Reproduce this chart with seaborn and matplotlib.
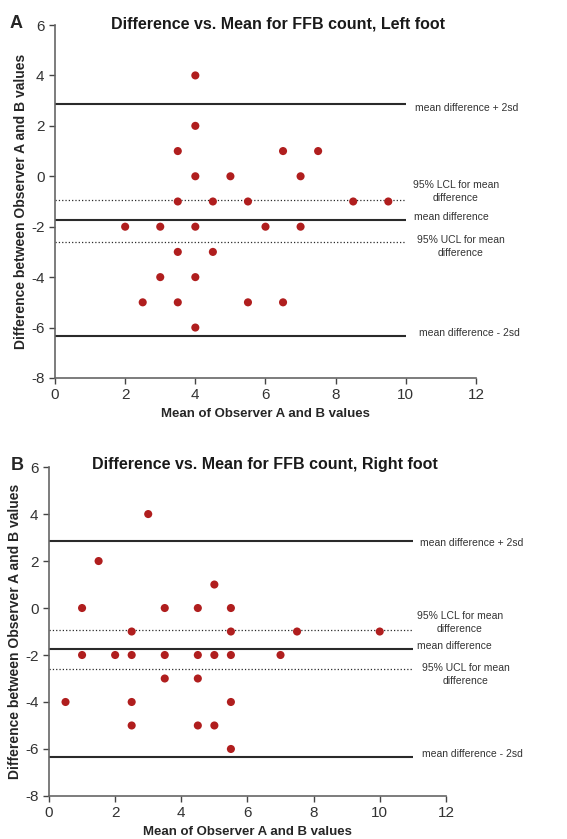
import numpy as np
import pandas as pd
import matplotlib
matplotlib.use('Agg')
import matplotlib.pyplot as plt
import seaborn as sns

# Panel A - left foot
left_mean = [4, 4, 3.5, 6.5, 7.5, 4, 5, 7, 3.5, 4.5, 5.5, 8.5, 9.5,
             2, 3, 4, 6, 7, 3.5, 4.5, 3, 4, 2.5, 3.5, 5.5, 6.5, 4]
left_diff = [4, 2, 1, 1, 1, 0, 0, 0, -1, -1, -1, -1, -1,
             -2, -2, -2, -2, -2, -3, -3, -4, -4, -5, -5, -5, -5, -6]

# Panel B - right foot
right_mean = [3, 1.5, 5, 1, 3.5, 4.5, 5.5, 2.5, 5.5, 7.5, 10,
              1, 2, 2.5, 3.5, 4.5, 5, 5.5, 7, 3.5, 4.5,
              0.5, 2.5, 5.5, 2.5, 4.5, 5, 5.5]
right_diff = [4, 2, 1, 0, 0, 0, 0, -1, -1, -1, -1,
              -2, -2, -2, -2, -2, -2, -2, -2, -3, -3,
              -4, -4, -4, -5, -5, -5, -6]

# reference lines: +2sd, LCL, mean, UCL, -2sd
line_names = ['mean difference + 2sd', '95% LCL for mean\ndifference', 'mean difference',
              '95% UCL for mean\ndifference', 'mean difference - 2sd']
left_levels = [2.85, -0.95, -1.75, -2.6, -6.35]
right_levels = [2.85, -0.95, -1.75, -2.6, -6.35]

x_ticks = [0, 2, 4, 6, 8, 10, 12]
y_ticks = [-8, -6, -4, -2, 0, 2, 4, 6]

sns.set_style('ticks')
plt.rcParams['font.family'] = ['Liberation Sans', 'DejaVu Sans']
plt.rcParams['axes.unicode_minus'] = False

fig = plt.figure(figsize=(5.67, 8.39), dpi=100)


def draw_panel(rect, xs, ys, levels, line_end, title, title_x, title_y,
               label_xs, label_dy):
    ax = fig.add_axes(rect)
    df = pd.DataFrame({'mean': xs, 'diff': ys})
    for lvl, style in zip(levels, ['-', ':', '-', ':', '-']):
        lw = 1.5 if style == '-' else 0.9
        ax.hlines(lvl, 0, line_end, colors='#2a2a2a', linestyles=style, linewidth=lw, zorder=1)
    sns.scatterplot(data=df, x='mean', y='diff', ax=ax, color='#B01E1E', s=34,
                    edgecolor='none', zorder=3)
    ax.set_xlim(0, 12)
    ax.set_ylim(-8, 6)
    ax.set_xticks(x_ticks)
    ax.set_yticks(y_ticks)
    ax.tick_params(labelsize=11, length=4, width=1, colors='#444444', labelcolor='#333333')
    for sp in ['top', 'right']:
        ax.spines[sp].set_visible(False)
    for sp in ['left', 'bottom']:
        ax.spines[sp].set_color('#666666')
        ax.spines[sp].set_linewidth(1.2)
    ax.set_xlabel('Mean of Observer A and B values', fontsize=9.5, fontweight='bold', labelpad=4)
    ax.set_ylabel('Difference between Observer A and B values', fontsize=10,
                  fontweight='bold', labelpad=2)
    ax.text(title_x, title_y, title, transform=ax.transAxes, fontsize=11.5,
            fontweight='bold', ha='center', va='baseline', color='#1a1a1a')
    for name, lvl, lx, dy in zip(line_names, levels, label_xs, label_dy):
        ax.annotate(name, (lx, lvl), xytext=(0, dy), textcoords='offset pixels',
                    fontsize=7.5, ha='center', va='center', color='#333333',
                    linespacing=1.4, annotation_clip=False)
    return ax


draw_panel([0.097, 0.5495, 0.7425, 0.4207], left_mean, left_diff, left_levels, 10,
           'Difference vs. Mean for FFB count, Left foot', 0.53, 0.9915,
           [11.74, 11.43, 11.29, 11.57, 11.8], [-3.6, 8.5, 3, -4.5, 3])
draw_panel([0.0864, 0.0513, 0.700, 0.392], right_mean, right_diff, right_levels, 11,
           'Difference vs. Mean for FFB count, Right foot', 0.545, 0.994,
           [12.79, 12.42, 12.27, 12.59, 12.79], [-2.4, 8, 3, -5, 3])

fig.text(10 / 567, 1 - 28 / 839, 'A', fontsize=13, fontweight='bold', ha='left', va='baseline')
fig.text(11 / 567, 1 - 470 / 839, 'B', fontsize=13, fontweight='bold', ha='left', va='baseline')

fig.savefig('out.png', dpi=100)
